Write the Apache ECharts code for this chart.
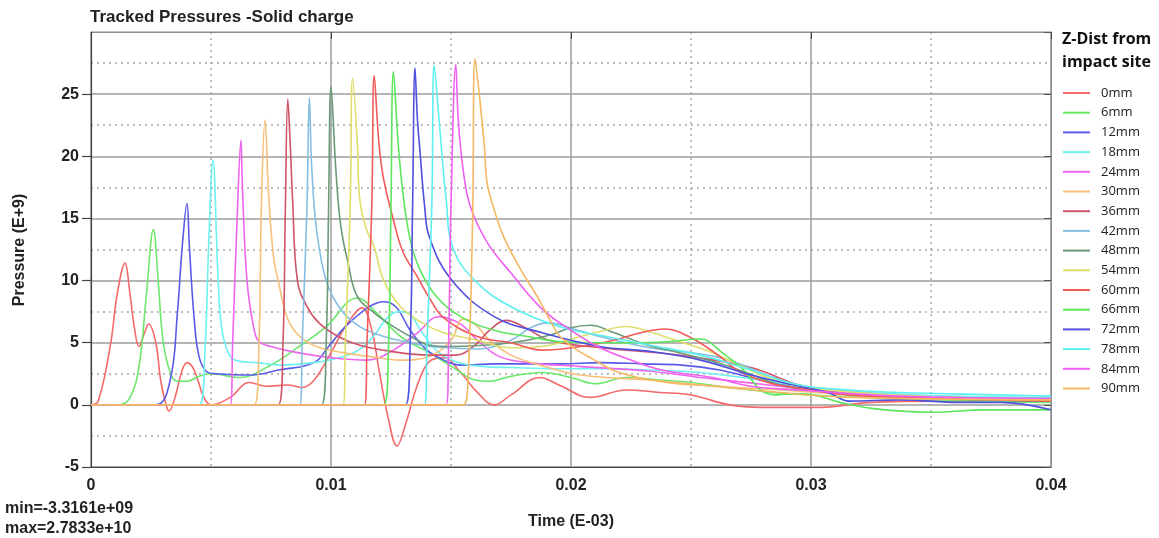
<!DOCTYPE html>
<html>
<head>
<meta charset="utf-8">
<title>Tracked Pressures -Solid charge</title>
<script src="https://cdn.jsdelivr.net/npm/echarts/dist/echarts.min.js"></script>
<style>
  html, body { margin: 0; padding: 0; background: #ffffff; }
  #chart { width: 1159px; height: 538px; }
</style>
</head>
<body>
<div id="chart"></div>
<script>
// Tracked pressure histories, time in E-03, pressure in E+9, one array per tracer depth.
const z0mm = [[0,0],[0.0003,0.3],[0.0008,4.7],[0.0011,9.0],[0.00142,11.4],[0.0016,9.3],[0.0018,6.3],[0.002,4.7],[0.00225,5.9],[0.0024,6.5],[0.0027,5.0],[0.0029,2.0],[0.0031,0.2],[0.00325,-0.5],[0.0035,0.6],[0.0038,2.8],[0.004,3.4],[0.0043,2.8],[0.0047,0.6],[0.005,0],[0.0058,0.6],[0.0066,1.8],[0.0073,1.5],[0.0082,1.6],[0.0088,1.4],[0.0093,2.0],[0.01,4.2],[0.0107,6.6],[0.0113,7.8],[0.0117,6.0],[0.012,2.8],[0.0124,-1.2],[0.01275,-3.3161],[0.0131,-1.6],[0.0136,1.6],[0.0141,3.5],[0.0147,3.8],[0.0154,2.6],[0.0161,1.0],[0.0168,0],[0.0175,0.8],[0.0187,2.2],[0.0195,1.6],[0.0208,0.6],[0.0223,1.2],[0.0237,1.0],[0.025,0.8],[0.0266,0],[0.0279,-0.2],[0.0304,-0.2],[0.0325,0.2],[0.0354,0.3],[0.04,0.3]];
const z6mm = [[0,0],[0.0011,0],[0.0016,0.5],[0.002,3.1],[0.0023,8.7],[0.0026,14.1],[0.0028,10.0],[0.003,5.2],[0.0033,2.6],[0.0036,1.9],[0.004,1.9],[0.0045,2.3],[0.005,2.5],[0.0062,2.2],[0.0074,3.1],[0.0086,4.6],[0.0098,6.3],[0.0111,8.6],[0.0119,7.4],[0.0129,5.5],[0.0141,4.2],[0.0151,3.0],[0.016,2.0],[0.0166,1.9],[0.0175,2.3],[0.0188,2.6],[0.02,2.2],[0.021,1.7],[0.0223,2.2],[0.0237,2.0],[0.025,1.8],[0.027,1.3],[0.029,0.9],[0.031,0.7],[0.034,0.5],[0.037,0.3],[0.04,0.2]];
const z12mm = [[0,0],[0.0027,0],[0.0033,2.0],[0.0036,7.4],[0.0038,12.7],[0.004,16.2],[0.0041,12.7],[0.0043,6.9],[0.0045,3.9],[0.0048,2.7],[0.0052,2.5],[0.0067,2.4],[0.0078,2.8],[0.0093,3.4],[0.0099,4.7],[0.0106,6.3],[0.0116,7.9],[0.0122,8.3],[0.0127,7.9],[0.0133,6.0],[0.014,4.4],[0.0147,3.6],[0.0154,3.2],[0.0168,3.3],[0.0182,3.3],[0.0196,3.3],[0.0212,3.4],[0.023,3.3],[0.0246,3.2],[0.0262,2.8],[0.0279,2.0],[0.0296,1.4],[0.0317,0.8],[0.0358,0.5],[0.04,0.3]];
const z18mm = [[0,0],[0.0045,0],[0.00475,4.5],[0.0049,12.7],[0.00508,19.7],[0.0053,10.0],[0.00546,6.0],[0.0058,3.9],[0.0062,3.5],[0.0069,3.4],[0.0079,3.2],[0.0093,3.4],[0.0107,4.0],[0.0113,4.6],[0.0118,5.6],[0.0123,6.9],[0.0128,7.5],[0.0132,7.4],[0.0138,5.8],[0.0145,4.2],[0.0153,3.4],[0.0163,3.1],[0.0175,3.0],[0.0195,2.9],[0.0212,2.9],[0.0233,2.8],[0.0254,2.6],[0.0279,2.0],[0.0296,1.5],[0.0325,1.0],[0.0358,0.7],[0.04,0.6]];
const z24mm = [[0,0],[0.0058,0],[0.0059,4.8],[0.0061,15.6],[0.00625,21.3],[0.0063,18.0],[0.0065,10.0],[0.0068,6.0],[0.007,5.1],[0.0075,4.7],[0.0086,4.2],[0.01,3.8],[0.0115,3.6],[0.0126,4.4],[0.0136,5.8],[0.0145,7.1],[0.0154,6.5],[0.0161,5.2],[0.017,3.9],[0.0182,3.4],[0.0203,3.1],[0.0233,2.7],[0.0254,2.2],[0.0287,1.5],[0.0316,0.8],[0.035,0.6],[0.04,0.5]];
const z30mm = [[0,0],[0.0068,0],[0.007,5.0],[0.0071,16.0],[0.00725,22.9],[0.0074,17.0],[0.0076,12.0],[0.0078,10.0],[0.0082,6.9],[0.0087,5.5],[0.0094,4.7],[0.0105,4.2],[0.0116,3.9],[0.0129,3.6],[0.0141,3.9],[0.015,5.2],[0.0155,6.9],[0.016,6.5],[0.0166,5.2],[0.0175,4.0],[0.0187,3.2],[0.0204,2.4],[0.0233,2.0],[0.0254,1.6],[0.0287,1.2],[0.0337,0.6],[0.04,0.4]];
const z36mm = [[0,0],[0.0078,0],[0.008,5.0],[0.0081,16.0],[0.0082,24.6],[0.0083,21.0],[0.0084,16.5],[0.0086,10.0],[0.009,7.9],[0.0095,6.6],[0.0103,5.5],[0.0112,4.8],[0.0125,4.3],[0.0141,4.0],[0.0152,4.0],[0.016,4.8],[0.0166,6.0],[0.0173,6.8],[0.0181,6.2],[0.0191,5.2],[0.0212,4.6],[0.0245,4.0],[0.0275,3.0],[0.0295,1.6],[0.032,0.8],[0.0358,0.5],[0.04,0.3]];
const z42mm = [[0,0],[0.0087,0],[0.0088,5.0],[0.009,16.0],[0.0091,24.7],[0.0092,19.0],[0.0094,14.1],[0.0098,10.0],[0.0104,7.7],[0.0112,6.3],[0.0122,5.5],[0.0133,5.0],[0.0141,4.7],[0.0161,4.5],[0.0175,5.2],[0.0183,6.2],[0.019,6.6],[0.0203,6.0],[0.0212,5.5],[0.0233,4.6],[0.0262,3.8],[0.0287,2.0],[0.03,1.4],[0.0325,0.9],[0.0358,0.6],[0.04,0.4]];
const z48mm = [[0,0],[0.0096,0],[0.0098,5.0],[0.0099,16.0],[0.01,25.6],[0.0102,19.0],[0.0104,14.5],[0.0107,11.5],[0.0111,8.7],[0.0118,7.4],[0.0126,6.3],[0.0136,5.2],[0.0141,4.8],[0.015,4.7],[0.0175,5.0],[0.0191,5.6],[0.02,6.2],[0.0208,6.4],[0.0218,5.8],[0.0232,4.8],[0.0245,4.2],[0.0259,3.5],[0.0273,2.6],[0.0287,1.6],[0.0304,1.1],[0.0337,0.6],[0.04,0.3]];
const z54mm = [[0,0],[0.0105,0],[0.0106,5.0],[0.0108,16.0],[0.0109,26.3],[0.0111,21.0],[0.0112,16.5],[0.0115,14.0],[0.0118,12.7],[0.0122,10.0],[0.0129,7.9],[0.0138,6.6],[0.0147,5.8],[0.0161,5.2],[0.0175,4.6],[0.0188,4.7],[0.0204,5.5],[0.0212,5.9],[0.0223,6.3],[0.0234,5.8],[0.0245,5.1],[0.0259,4.2],[0.027,3.2],[0.0282,2.2],[0.0295,1.5],[0.0325,0.9],[0.0358,0.6],[0.04,0.4]];
const z60mm = [[0,0],[0.0114,0],[0.0115,5.0],[0.0117,16.0],[0.0118,26.5],[0.012,21.0],[0.0122,18.1],[0.0126,14.9],[0.013,12.3],[0.0136,10.3],[0.0141,8.6],[0.0147,7.0],[0.0161,5.5],[0.0175,5.0],[0.0188,4.4],[0.0204,4.7],[0.0218,5.2],[0.0229,5.8],[0.0239,6.1],[0.025,5.4],[0.0262,3.9],[0.027,2.7],[0.0282,1.8],[0.0293,1.4],[0.0316,0.8],[0.0358,0.5],[0.04,0.3]];
const z66mm = [[0,0],[0.0122,0],[0.0124,5.0],[0.0125,16.0],[0.0126,26.8],[0.0128,21.0],[0.013,17.0],[0.0133,13.3],[0.0137,10.9],[0.0144,8.7],[0.0154,7.1],[0.0168,6.0],[0.0182,5.5],[0.0195,5.1],[0.0212,5.0],[0.0229,5.0],[0.0241,5.1],[0.0254,5.3],[0.0263,4.2],[0.0272,2.8],[0.0279,1.2],[0.0285,0.8],[0.0293,0.9],[0.0301,0.8],[0.0312,0.2],[0.0326,-0.3],[0.0351,-0.6],[0.0372,-0.4],[0.04,-0.4]];
const z72mm = [[0,0],[0.0131,0],[0.0133,5.0],[0.0134,16.0],[0.0135,27.1],[0.0136,23.0],[0.0137,20.6],[0.0139,16.0],[0.0141,13.5],[0.015,10.1],[0.0168,7.1],[0.0188,5.8],[0.0212,4.7],[0.0233,4.3],[0.0254,3.6],[0.0275,2.4],[0.0295,1.5],[0.0307,1.0],[0.0316,0.3],[0.0337,0.4],[0.0362,0.2],[0.0379,0.2],[0.04,-0.4]];
const z78mm = [[0,0],[0.0139,0],[0.014,5.0],[0.0142,16.0],[0.0143,27.3],[0.0145,23.0],[0.0148,16.5],[0.0151,12.5],[0.0161,9.8],[0.0175,7.9],[0.0195,6.3],[0.0212,5.6],[0.0233,4.8],[0.0254,4.0],[0.0275,2.8],[0.0295,1.6],[0.0316,1.2],[0.0337,1.0],[0.0379,0.8],[0.04,0.7]];
const z84mm = [[0,0],[0.0148,0],[0.0149,5.0],[0.015,16.0],[0.0152,27.4],[0.0153,23.0],[0.0155,19.0],[0.0158,16.0],[0.0165,13.1],[0.0175,10.6],[0.0188,7.7],[0.02,6.0],[0.0211,4.7],[0.0225,3.6],[0.0238,2.8],[0.0259,2.2],[0.0275,1.5],[0.0295,1.2],[0.0337,0.7],[0.04,0.5]];
const z90mm = [[0,0],[0.0155,0],[0.0157,1.8],[0.0159,15.0],[0.016,27.833],[0.0162,24.6],[0.0164,20.6],[0.0165,17.9],[0.0168,15.7],[0.0172,13.5],[0.0179,10.9],[0.0186,8.7],[0.0191,6.9],[0.0195,5.6],[0.0201,4.6],[0.0208,3.8],[0.022,2.6],[0.024,1.8],[0.0259,1.5],[0.0287,1.0],[0.0316,0.6],[0.04,0.4]];

const seriesNames = ['0mm','6mm','12mm','18mm','24mm','30mm','36mm','42mm','48mm','54mm','60mm','66mm','72mm','78mm','84mm','90mm'];
const seriesData = [z0mm, z6mm, z12mm, z18mm, z24mm, z30mm, z36mm, z42mm, z48mm, z54mm, z60mm, z66mm, z72mm, z78mm, z84mm, z90mm];
const lineColors = ['#f46a6a','#6be86b','#5a5ae8','#6cf0f0','#ee66ee','#f6c07a','#cf5468','#86bde0','#6a9a78','#dede6a','#f25a5a','#5ce65c','#4f4fe0','#5cefef','#f060f0','#f5b862'];

// Labelled pressure ticks (the top edge at 30 carries no label or tick)
const yTickValues = [-5, 0, 5, 10, 15, 20, 25];

// Scientific notation with a two-digit exponent, e.g. -3.3161e+09
function sci(v) {
  const parts = v.toExponential(4).split('e');
  const exp = parts[1];
  return parts[0] + 'e' + exp[0] + exp.slice(1).padStart(2, '0');
}

let pMin = Infinity, pMax = -Infinity;
seriesData.forEach(function (arr) {
  arr.forEach(function (pt) {
    if (pt[1] < pMin) pMin = pt[1];
    if (pt[1] > pMax) pMax = pt[1];
  });
});

const boldFont = { fontFamily: 'Liberation Sans', fontWeight: 'bold', color: '#222' };

const chart = echarts.init(document.getElementById('chart'), null, { renderer: 'canvas' });

const option = {
  animation: false,
  backgroundColor: '#ffffff',
  title: {
    text: 'Tracked Pressures -Solid charge',
    left: 90,
    top: 9,
    padding: 0,
    textStyle: Object.assign({ fontSize: 17 }, boldFont)
  },
  grid: {
    left: 91, right: 108, top: 32, bottom: 71,
    show: true, borderColor: '#8c8c8c', borderWidth: 1
  },
  legend: {
    orient: 'vertical',
    left: 1063,
    top: 85,
    padding: 0,
    icon: 'rect',
    itemWidth: 27,
    itemHeight: 2,
    itemGap: 3.7,
    data: seriesNames,
    textStyle: { fontFamily: 'Open Sans', fontSize: 13, color: '#222', lineHeight: 16, padding: [0, 0, 0, 6] }
  },
  xAxis: [{
    type: 'value', min: 0, max: 0.04, interval: 0.01,
    axisLine: { onZero: false, lineStyle: { color: '#444', width: 1.2 } },
    axisTick: { show: false },
    axisLabel: Object.assign({ fontSize: 16, margin: 11 }, boldFont),
    splitLine: { lineStyle: { color: '#9c9c9c', width: 1.5 } },
    minorTick: { show: false, splitNumber: 2 },
    minorSplitLine: { show: true, lineStyle: { color: '#a8a8a8', width: 1.5, type: [2, 4] } }
  }, {
    type: 'value', min: 0, max: 0.04, interval: 0.01, position: 'top',
    axisLine: { show: true, onZero: false, lineStyle: { color: '#8c8c8c' } },
    axisTick: { show: true, inside: true, length: 7, lineStyle: { color: '#444' } },
    axisLabel: { show: false },
    splitLine: { show: false }
  }],
  yAxis: [{
    type: 'value', min: -5, max: 30, interval: 5,
    axisLine: { show: true, onZero: false, lineStyle: { color: '#444', width: 1.2 } },
    axisTick: { show: true, length: 9, customValues: yTickValues, lineStyle: { color: '#444', width: 1.2 } },
    axisLabel: Object.assign({
      fontSize: 16, margin: 12, customValues: yTickValues,
      formatter: function (v) { return yTickValues.indexOf(v) >= 0 ? String(v) : ''; }
    }, boldFont),
    splitLine: { lineStyle: { color: '#9c9c9c', width: 1.5 } },
    minorTick: { show: false, splitNumber: 2 },
    minorSplitLine: { show: true, lineStyle: { color: '#a8a8a8', width: 1.5, type: [2, 4] } }
  }, {
    type: 'value', min: -5, max: 30, interval: 5, position: 'right',
    axisLine: { show: true, onZero: false, lineStyle: { color: '#8c8c8c' } },
    axisTick: { show: true, inside: true, length: 7, lineStyle: { color: '#555' } },
    axisLabel: { show: false },
    splitLine: { show: false }
  }],
  graphic: [
    { type: 'text', left: 1062, top: 31, style: { text: 'Z-Dist from', font: 'bold 16px "Open Sans"', fill: '#111' } },
    { type: 'text', left: 1062, top: 54, style: { text: 'impact site', font: 'bold 16px "Open Sans"', fill: '#111' } },
    { type: 'text', x: 20, y: 250, rotation: Math.PI / 2,
      style: { text: 'Pressure (E+9)', font: 'bold 16px "Liberation Sans"', fill: '#222', align: 'center', verticalAlign: 'middle' } },
    { type: 'text', x: 571, y: 522,
      style: { text: 'Time (E-03)', font: 'bold 16px "Liberation Sans"', fill: '#222', align: 'center', verticalAlign: 'middle' } },
    { type: 'text', x: 5, y: 509,
      style: { text: 'min=' + sci(pMin * 1e9), font: 'bold 16px "Liberation Sans"', fill: '#222', align: 'left', verticalAlign: 'middle' } },
    { type: 'text', x: 5, y: 529,
      style: { text: 'max=' + sci(pMax * 1e9), font: 'bold 16px "Liberation Sans"', fill: '#222', align: 'left', verticalAlign: 'middle' } }
  ],
  series: seriesNames.map(function (name, i) {
    return {
      name: name,
      type: 'line',
      xAxisIndex: 0,
      yAxisIndex: 0,
      data: seriesData[i],
      smooth: 0.4,
      showSymbol: false,
      symbol: 'none',
      color: lineColors[i],
      lineStyle: { width: 1.6, color: lineColors[i] },
      emphasis: { disabled: true }
    };
  })
};

chart.setOption(option);
</script>
</body>
</html>
